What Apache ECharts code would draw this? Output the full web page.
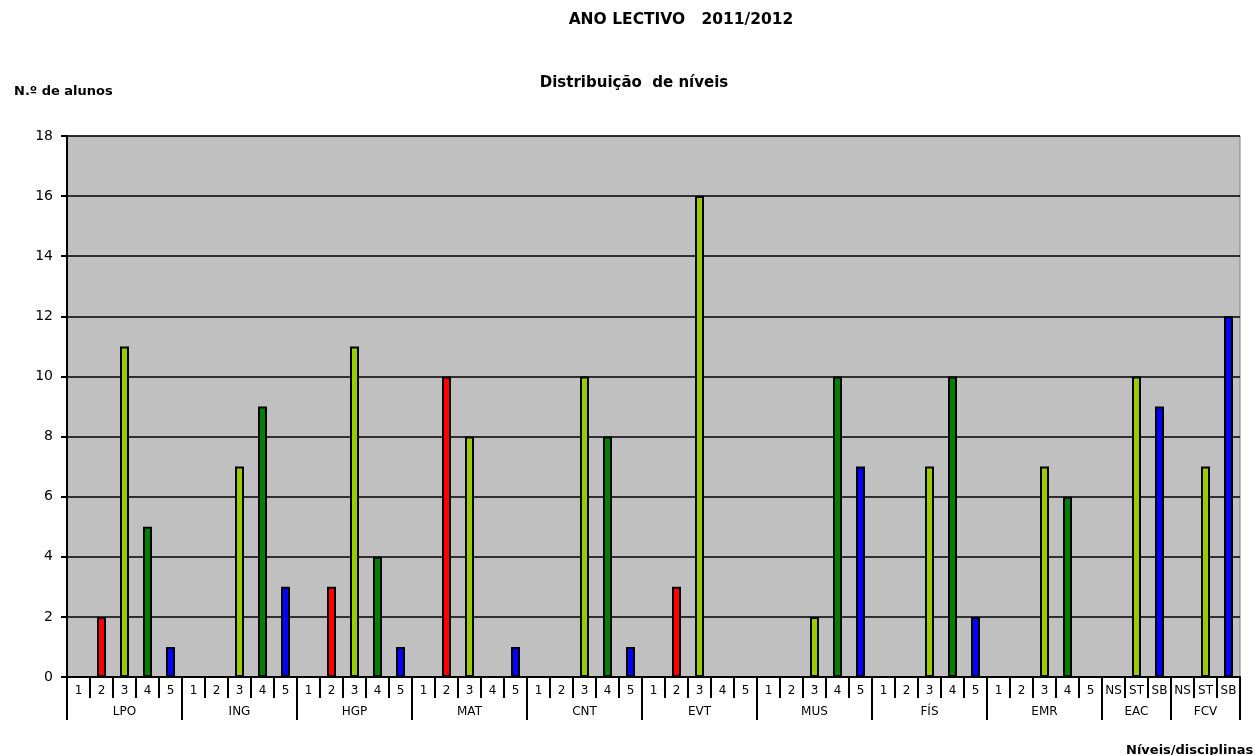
<!DOCTYPE html>
<html>
<head>
<meta charset="utf-8">
<script src="https://cdn.jsdelivr.net/npm/echarts@6/dist/echarts.min.js"></script>
<style>
  html, body { margin: 0; padding: 0; background: #fff; }
  #chart { width: 1255px; height: 755px; }
</style>
</head>
<body>
<div id="chart"></div>
<script>
// Subjects and the grade levels reported for each
const subjects = ['LPO', 'ING', 'HGP', 'MAT', 'CNT', 'EVT', 'MUS', 'FÍS', 'EMR', 'EAC', 'FCV'];
const numericLevels = ['1', '2', '3', '4', '5'];
const qualitativeLevels = ['NS', 'ST', 'SB'];

// Number of students per level, one array per subject
const LPO = [0, 2, 11, 5, 1];
const ING = [0, 0, 7, 9, 3];
const HGP = [0, 3, 11, 4, 1];
const MAT = [0, 10, 8, 0, 1];
const CNT = [0, 0, 10, 8, 1];
const EVT = [0, 3, 16, 0, 0];
const MUS = [0, 0, 2, 10, 7];
const FIS = [0, 0, 7, 10, 2];
const EMR = [0, 0, 7, 6, 0];
const EAC = [0, 10, 9];
const FCV = [0, 7, 12];

const subjectValues = [LPO, ING, HGP, MAT, CNT, EVT, MUS, FIS, EMR, EAC, FCV];
const subjectLevels = [numericLevels, numericLevels, numericLevels, numericLevels, numericLevels,
  numericLevels, numericLevels, numericLevels, numericLevels, qualitativeLevels, qualitativeLevels];

// Y axis ticks
const yTicks = { min: 0, max: 18, step: 2 };

// Bar colour for each level
const levelColors = {
  '1': '#FF0000', '2': '#FF0000', '3': '#99CC00', '4': '#008000', '5': '#0000FF',
  'NS': '#FF0000', 'ST': '#99CC00', 'SB': '#0000FF'
};

// Flatten into one category axis (levels) plus a parallel axis for subject names
const levelCats = [];
const groupCats = [];
const barData = [];
const groupStart = new Set();
const groupMiddle = new Set();
subjects.forEach((s, si) => {
  const lv = subjectLevels[si];
  const start = levelCats.length;
  groupStart.add(start);
  groupMiddle.add(start + Math.floor(lv.length / 2));
  lv.forEach((l, li) => {
    levelCats.push(l);
    groupCats.push(s);
    const v = subjectValues[si][li];
    barData.push({
      value: v === 0 ? null : v,
      itemStyle: { color: levelColors[l] }
    });
  });
});

const chart = echarts.init(document.getElementById('chart'), null, { renderer: 'canvas' });
const font = 'DejaVu Sans, Liberation Sans, Arial, sans-serif';

chart.setOption({
  animation: false,
  title: [
    { text: 'ANO LECTIVO   2011/2012', left: 676, top: 7, textAlign: 'center',
      textStyle: { fontFamily: font, fontSize: 15.5, fontWeight: 'bold', color: '#000' } },
    { text: 'Distribuição  de níveis', left: 629, top: 71, textAlign: 'center',
      textStyle: { fontFamily: font, fontSize: 15, fontWeight: 'bold', color: '#000' } },
    { text: 'N.º de alunos', left: 9, top: 80,
      textStyle: { fontFamily: font, fontSize: 13, fontWeight: 'bold', color: '#000' } },
    { text: 'Níveis/disciplinas', left: 1121, top: 739,
      textStyle: { fontFamily: font, fontSize: 13, fontWeight: 'bold', color: '#000' } }
  ],
  grid: {
    left: 67, right: 15, top: 136, bottom: 78,
    show: true, backgroundColor: '#C0C0C0', borderColor: '#808080', borderWidth: 1
  },
  xAxis: [
    {
      type: 'category', data: levelCats, position: 'bottom',
      axisLine: { show: true, lineStyle: { color: '#000', width: 2 } },
      axisTick: { show: true, interval: 0, length: 21, lineStyle: { color: '#000', width: 2 } },
      axisLabel: { interval: 0, margin: 8, fontFamily: font, fontSize: 12, color: '#000' }
    },
    {
      type: 'category', data: groupCats, position: 'bottom', offset: 0,
      axisLine: { show: false },
      axisTick: { show: true, length: 43, interval: (i) => groupStart.has(i),
        lineStyle: { color: '#000', width: 2 } },
      axisLabel: { interval: (i) => groupMiddle.has(i), margin: 29,
        fontFamily: font, fontSize: 12, color: '#000' }
    }
  ],
  yAxis: {
    type: 'value', min: yTicks.min, max: yTicks.max, interval: yTicks.step,
    axisLine: { show: true, lineStyle: { color: '#000', width: 2 } },
    axisTick: { show: true, length: 6, lineStyle: { color: '#000', width: 2 } },
    axisLabel: { margin: 14, fontFamily: font, fontSize: 14, color: '#000' },
    splitLine: { show: true, lineStyle: { color: '#000', width: 1.5 } }
  },
  series: [{
    type: 'bar', xAxisIndex: 0, data: barData, barWidth: 9,
    itemStyle: { borderColor: '#000', borderWidth: 2 }
  }]
});
</script>
</body>
</html>
